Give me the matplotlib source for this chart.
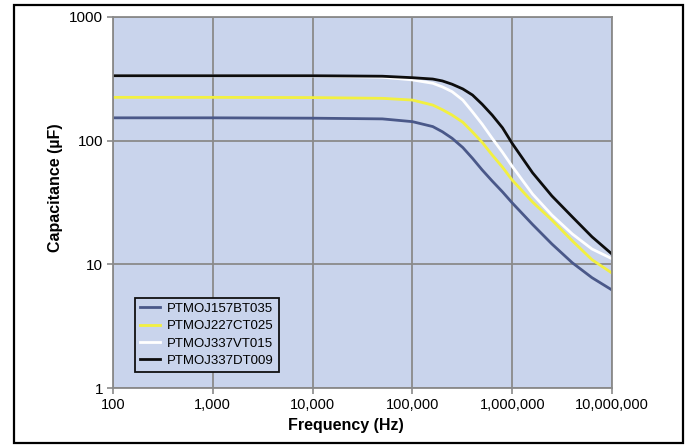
import matplotlib
matplotlib.use("Agg")
import matplotlib.pyplot as plt
from matplotlib.patches import Rectangle

plt.rcParams["font.family"] = ["Liberation Sans", "DejaVu Sans"]

# frequency points (Hz)
freq = [100, 1e3, 1e4, 5e4, 1e5, 1.6e5, 2e5, 2.5e5, 3.2e5, 4e5, 5e5, 6.3e5, 8e5,
        1e6, 1.6e6, 2.5e6, 4e6, 6.3e6, 1e7]

# capacitance (uF) per part number
cap_157bt = [153, 153, 152, 150, 142.5, 130, 118, 104.5, 88, 72, 58, 47.2, 38.5,
             31.4, 21, 14.6, 10.3, 7.8, 6.2]
cap_227ct = [224, 224, 223, 220, 213, 194, 178, 161, 141, 117.5, 97, 76.6, 61,
             48, 31.9, 22.8, 15.5, 10.9, 8.5]
cap_337vt = [334, 334, 333, 326, 310, 291, 272, 249, 213, 171, 136, 104.5, 80.5,
             62, 37, 25, 17.6, 13.3, 11.1]
cap_337dt = [335, 335, 335, 332, 323, 315, 304, 286, 262, 234, 197, 161, 127,
             95, 55, 35.7, 24.2, 16.7, 12.1]

series = [
    ("PTMOJ157BT035", cap_157bt, "#4a5889"),
    ("PTMOJ227CT025", cap_227ct, "#f2f040"),
    ("PTMOJ337VT015", cap_337vt, "#ffffff"),
    ("PTMOJ337DT009", cap_337dt, "#0d0d0d"),
]

x_ticks = [100, 1e3, 1e4, 1e5, 1e6, 1e7]
x_labels = ["100", "1,000", "10,000", "100,000", "1,000,000", "10,000,000"]
y_ticks = [1, 10, 100, 1000]
y_labels = ["1", "10", "100", "1000"]

BG = "#c9d4ec"
GRID = "#8a8a8a"

fig = plt.figure(figsize=(6.86, 4.45), dpi=100)
ax = fig.add_axes([113 / 686, 1 - 388 / 445, 499 / 686, 371 / 445])
ax.set_facecolor(BG)

for name, vals, col in series:
    ax.plot(freq, vals, color=col, lw=2.0, label=name, solid_joinstyle="round")

ax.set_xscale("log")
ax.set_yscale("log")
ax.set_xlim(100, 1e7)
ax.set_ylim(1, 1000)
ax.set_xticks(x_ticks, x_labels, fontsize=10.5)
ax.set_yticks(y_ticks, y_labels, fontsize=11)
ax.minorticks_off()
ax.tick_params(axis="both", color=GRID, width=1.2, length=4, pad=3)
ax.grid(True, which="major", color=GRID, lw=1.3)
ax.set_axisbelow(True)
for sp in ax.spines.values():
    sp.set_color(GRID)
    sp.set_linewidth(1.3)

ax.set_xlabel("Frequency (Hz)", fontsize=11.5, fontweight="bold")
ax.xaxis.set_label_coords(0.466, -0.08)
ax.xaxis.label.set_va("top")
ax.set_ylabel("Capacitance (\u00b5F)", fontsize=11.5, fontweight="bold")
ax.yaxis.set_label_coords(-0.10, 0.54)

leg = ax.legend(loc="lower left", bbox_to_anchor=(0.044, 0.043), borderaxespad=0,
                fontsize=9.5, handlelength=1.5, handletextpad=0.5,
                labelspacing=0.38, borderpad=0.4, fancybox=False,
                framealpha=1, facecolor=BG, edgecolor="#111111")
leg.get_frame().set_linewidth(1.3)

fig.patches.append(Rectangle((14 / 686, 2 / 445), 669 / 686, 438 / 445,
                             transform=fig.transFigure, fill=False,
                             edgecolor="black", lw=1.6))

fig.savefig("out.png", dpi=100)
